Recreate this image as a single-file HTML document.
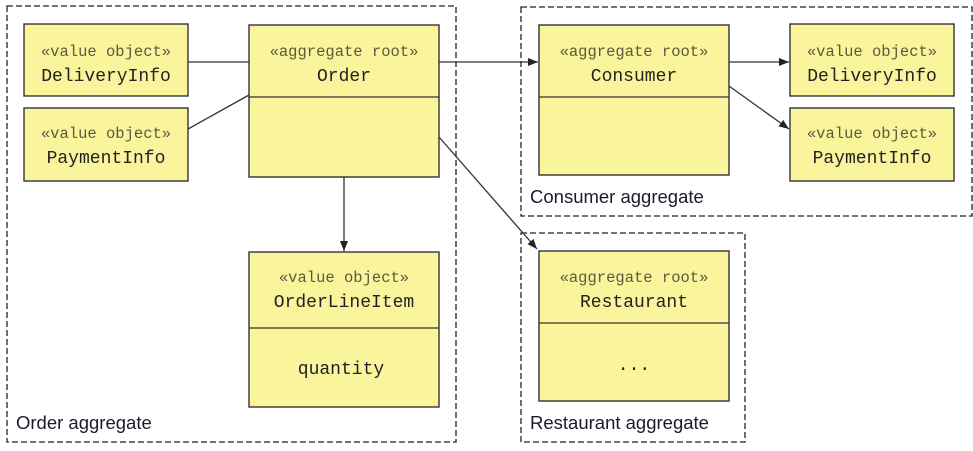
<!DOCTYPE html>
<html><head><meta charset="utf-8"><style>
html,body{margin:0;padding:0;background:#fff}
svg{display:block}
.b{fill:#faf49c;stroke:#333;stroke-width:1.4}
.d{fill:none;stroke:#222;stroke-width:1.3;stroke-dasharray:6,3}
.s{font-family:"Liberation Mono",monospace;font-size:15.5px;fill:#5c5a3c;text-anchor:middle}
.n{font-family:"Liberation Mono",monospace;font-size:18px;fill:#222;text-anchor:middle}
.l{font-family:"Liberation Sans",sans-serif;font-size:18.5px;fill:#1a1a2e}
.c{stroke:#333;stroke-width:1.3;fill:none}
</style></head><body>
<svg width="973" height="451" viewBox="0 0 973 451" xmlns="http://www.w3.org/2000/svg">
<defs><marker id="a" markerWidth="10" markerHeight="8" refX="10" refY="4" orient="auto" markerUnits="userSpaceOnUse"><path d="M0,0 L10,4 L0,8 z" fill="#222"/></marker></defs>
<rect class="d" x="7" y="6" width="449" height="436"/>
<rect class="d" x="521" y="7" width="451" height="209"/>
<rect class="d" x="521" y="233" width="224" height="209"/>
<text class="l" x="16" y="429">Order aggregate</text>
<text class="l" x="530" y="203">Consumer aggregate</text>
<text class="l" x="530" y="429">Restaurant aggregate</text>

<rect class="b" x="24" y="24" width="164" height="72"/>
<text class="s" x="106" y="56">«value object»</text><text class="n" x="106" y="81">DeliveryInfo</text>
<rect class="b" x="24" y="108" width="164" height="73"/>
<text class="s" x="106" y="138">«value object»</text><text class="n" x="106" y="163">PaymentInfo</text>

<rect class="b" x="249" y="25" width="190" height="152"/><line class="c" x1="249" y1="97" x2="439" y2="97"/>
<text class="s" x="344" y="56">«aggregate root»</text><text class="n" x="344" y="81">Order</text>

<rect class="b" x="249" y="252" width="190" height="155"/><line class="c" x1="249" y1="328" x2="439" y2="328"/>
<text class="s" x="344" y="282">«value object»</text><text class="n" x="344" y="307">OrderLineItem</text>
<text class="n" x="341" y="374">quantity</text>

<rect class="b" x="539" y="25" width="190" height="150"/><line class="c" x1="539" y1="97" x2="729" y2="97"/>
<text class="s" x="634" y="56">«aggregate root»</text><text class="n" x="634" y="81">Consumer</text>

<rect class="b" x="790" y="24" width="164" height="72"/>
<text class="s" x="872" y="56">«value object»</text><text class="n" x="872" y="81">DeliveryInfo</text>
<rect class="b" x="790" y="108" width="164" height="73"/>
<text class="s" x="872" y="138">«value object»</text><text class="n" x="872" y="163">PaymentInfo</text>

<rect class="b" x="539" y="251" width="190" height="150"/><line class="c" x1="539" y1="323" x2="729" y2="323"/>
<text class="s" x="634" y="282">«aggregate root»</text><text class="n" x="634" y="307">Restaurant</text>
<text class="n" x="634" y="370">...</text>

<line class="c" x1="188" y1="62" x2="249" y2="62"/>
<line class="c" x1="188" y1="129" x2="249" y2="95"/>
<line class="c" x1="439" y1="62" x2="538" y2="62" marker-end="url(#a)"/>
<line class="c" x1="729" y1="62" x2="789" y2="62" marker-end="url(#a)"/>
<line class="c" x1="729" y1="86" x2="789" y2="129" marker-end="url(#a)"/>
<line class="c" x1="344" y1="177" x2="344" y2="251" marker-end="url(#a)"/>
<line class="c" x1="439" y1="137" x2="537" y2="249" marker-end="url(#a)"/>
</svg>
</body></html>
